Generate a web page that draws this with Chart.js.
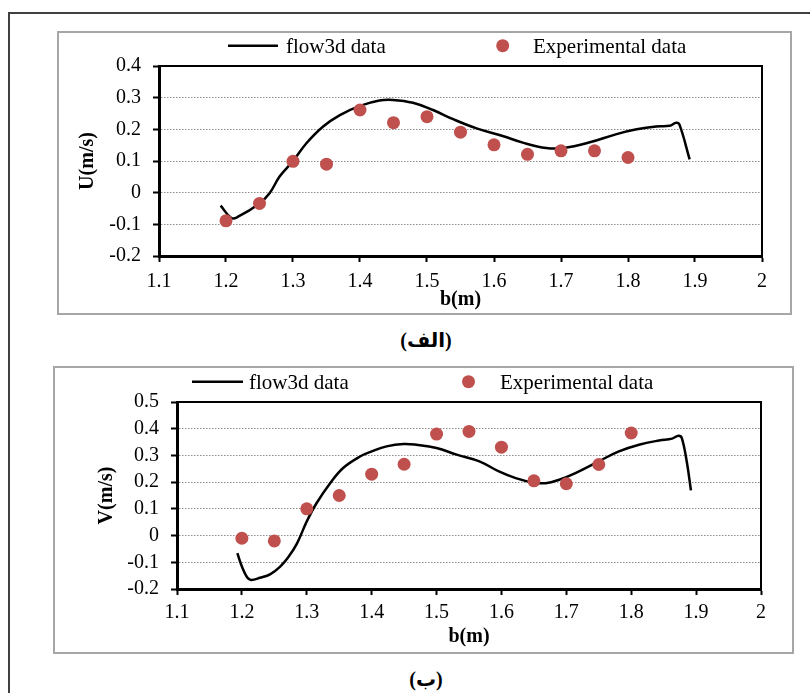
<!DOCTYPE html>
<html>
<head>
<meta charset="utf-8">
<script src="https://cdn.jsdelivr.net/npm/chart.js@4.4.1/dist/chart.umd.min.js"></script>
<style>
    body { margin: 0; background: #fff; width: 810px; height: 693px; overflow: hidden; position: relative; }
    #frame { position: absolute; left: 8px; top: 12px; width: 900px; height: 800px; border: 2px solid #404040; }
    .panel { position: absolute; box-sizing: border-box; border: 2px solid #a6a6a6; background: #fff; }
    .panel canvas { display: block; }
    .caption { position: absolute; left: 366px; width: 120px; text-align: center; font: bold 20px "Liberation Serif", "DejaVu Sans", serif; line-height: 24px; color: #000; }
</style>
</head>
<body>
<div id="frame"></div>

<div class="panel" style="left:57px; top:31px; width:735px; height:284px;">
    <canvas id="chartU" width="731" height="280"></canvas>
</div>
<div class="caption" dir="rtl" style="top:328px;">(الف)</div>

<div class="panel" style="left:53px; top:366px; width:741px; height:288px;">
    <canvas id="chartV" width="737" height="284"></canvas>
</div>
<div class="caption" dir="rtl" style="top:667px;">(ب)</div>

<script>
// tick labels
const xTickValues = [1.1, 1.2, 1.3, 1.4, 1.5, 1.6, 1.7, 1.8, 1.9, 2];
const uTickValues = [-0.2, -0.1, 0, 0.1, 0.2, 0.3, 0.4];
const vTickValues = [-0.2, -0.1, 0, 0.1, 0.2, 0.3, 0.4, 0.5];

const seriesNames = ['flow3d data', 'Experimental data'];

// experimental points (same stations in both plots)
const expX = [1.2, 1.25, 1.3, 1.35, 1.4, 1.45, 1.5, 1.55, 1.6, 1.65, 1.7, 1.75, 1.8];
const uExp = [-0.089, -0.034, 0.099, 0.09, 0.261, 0.221, 0.24, 0.191, 0.151, 0.121, 0.132, 0.132, 0.111];
const vExp = [-0.01, -0.02, 0.10, 0.15, 0.23, 0.267, 0.38, 0.39, 0.331, 0.205, 0.194, 0.266, 0.384];

// flow3d curve, U
const uLineX = [1.192, 1.208, 1.218, 1.249, 1.265, 1.280, 1.300, 1.320, 1.345, 1.370, 1.400, 1.429, 1.449,
                1.479, 1.509, 1.539, 1.574, 1.613, 1.643, 1.678, 1.703, 1.743, 1.783, 1.813, 1.842, 1.862,
                1.872, 1.877, 1.892];
const uLineY = [-0.041, -0.080, -0.076, -0.036, -0.002, 0.051, 0.100, 0.156, 0.209, 0.245, 0.274, 0.291, 0.293,
                0.284, 0.261, 0.232, 0.203, 0.179, 0.158, 0.141, 0.141, 0.159, 0.185, 0.200, 0.209, 0.211,
                0.221, 0.214, 0.105];

// flow3d curve, V
const vLineX = [1.193, 1.200, 1.208, 1.214, 1.228, 1.244, 1.259, 1.272, 1.285, 1.300, 1.315, 1.336, 1.356,
                1.382, 1.400, 1.423, 1.449, 1.469, 1.500, 1.531, 1.566, 1.596, 1.622, 1.648, 1.668, 1.689,
                1.714, 1.750, 1.781, 1.812, 1.843, 1.863, 1.873, 1.878, 1.886, 1.892];
const vLineY = [-0.066, -0.116, -0.156, -0.166, -0.158, -0.144, -0.116, -0.079, -0.029, 0.053, 0.121, 0.196, 0.253,
                0.296, 0.315, 0.334, 0.343, 0.340, 0.328, 0.303, 0.278, 0.240, 0.215, 0.199, 0.196, 0.209,
                0.234, 0.278, 0.315, 0.340, 0.356, 0.363, 0.374, 0.365, 0.271, 0.169];

const SERIF = '"Liberation Serif", "Times New Roman", serif';
const DOT_RED = '#c0504d';

function toPoints(xs, ys) {
    return xs.map((x, i) => ({ x: x, y: ys[i] }));
}

// legend drawn at fixed spots, like the spreadsheet one
const fixedLegend = {
    id: 'fixedLegend',
    afterDraw(chart, args, o) {
        const ctx = chart.ctx;
        const names = chart.data.datasets.map(d => d.label);
        ctx.save();
        ctx.strokeStyle = '#000';
        ctx.lineWidth = 2.5;
        ctx.beginPath();
        ctx.moveTo(o.lineFrom, o.lineY);
        ctx.lineTo(o.lineTo, o.lineY);
        ctx.stroke();
        ctx.fillStyle = DOT_RED;
        ctx.beginPath();
        ctx.arc(o.dotX, o.lineY, 6.5, 0, Math.PI * 2);
        ctx.fill();
        ctx.fillStyle = '#000';
        ctx.font = '21px ' + SERIF;
        ctx.textBaseline = 'alphabetic';
        ctx.fillText(names[0], o.text1, o.textY);
        ctx.fillText(names[1], o.text2, o.textY);
        ctx.restore();
    }
};

// top and right sides of the plot frame
const plotFrame = {
    id: 'plotFrame',
    afterDraw(chart) {
        const a = chart.chartArea;
        const ctx = chart.ctx;
        ctx.save();
        ctx.strokeStyle = '#000';
        ctx.lineWidth = 2;
        ctx.beginPath();
        ctx.moveTo(a.left, a.top);
        ctx.lineTo(a.right, a.top);
        ctx.lineTo(a.right, a.bottom);
        ctx.stroke();
        ctx.restore();
    }
};

function makeChart(id, cfg) {
    const ctx = document.getElementById(id).getContext('2d');
    return new Chart(ctx, {
        type: 'scatter',
        data: {
            datasets: [{
                label: seriesNames[0],
                data: toPoints(cfg.lineX, cfg.lineY),
                showLine: true,
                borderColor: '#000',
                borderWidth: 2.5,
                pointRadius: 0,
                tension: 0.4,
                order: 1
            }, {
                label: seriesNames[1],
                data: toPoints(expX, cfg.exp),
                pointRadius: 6.5,
                pointHoverRadius: 6.5,
                backgroundColor: DOT_RED,
                borderWidth: 0,
                order: 0
            }]
        },
        options: {
            responsive: false,
            animation: false,
            layout: { padding: { left: 0, top: cfg.padTop, right: cfg.padRight, bottom: 0 } },
            plugins: {
                legend: { display: false },
                tooltip: { enabled: false },
                fixedLegend: cfg.legend
            },
            scales: {
                x: {
                    type: 'linear',
                    min: 1.1,
                    max: 2,
                    afterBuildTicks: s => { s.ticks = xTickValues.map(v => ({ value: v })); },
                    afterFit: s => { s.height = cfg.xHeight; },
                    border: { color: '#000', width: 3 },
                    grid: { drawOnChartArea: false, drawTicks: true, tickLength: 6, tickColor: '#000', tickWidth: 2 },
                    ticks: { color: '#000', padding: cfg.xTickPad, maxRotation: 0, autoSkip: false,
                             font: { family: SERIF, size: 20 }, callback: v => String(v) },
                    title: { display: true, text: 'b(m)', color: '#000', padding: { top: 0, bottom: cfg.xTitlePad },
                             font: { family: SERIF, size: 20, weight: 'bold' } }
                },
                y: {
                    min: cfg.yTicks[0],
                    max: cfg.yTicks[cfg.yTicks.length - 1],
                    afterBuildTicks: s => { s.ticks = cfg.yTicks.map(v => ({ value: v })); },
                    afterFit: s => { s.width = cfg.yWidth; },
                    border: { color: '#000', width: 3, dash: [1.5, 1.5] },
                    grid: { color: '#8c8c8c', lineWidth: 1, drawTicks: true, tickLength: 6,
                            tickColor: '#000', tickWidth: 2, tickBorderDash: [] },
                    ticks: { color: '#000', padding: 12, autoSkip: false,
                             font: { family: SERIF, size: 20 }, callback: v => String(v) },
                    title: { display: true, text: cfg.yTitle, color: '#000', padding: { top: cfg.yTitlePad, bottom: 0 },
                             font: { family: SERIF, size: 20, weight: 'bold' } }
                }
            }
        },
        plugins: [fixedLegend, plotFrame]
    });
}

makeChart('chartU', {
    lineX: uLineX, lineY: uLineY, exp: uExp, yTicks: uTickValues, yTitle: 'U(m/s)',
    padTop: 33, padRight: 28, xHeight: 57, yWidth: 100,
    xTickPad: 8, xTitlePad: 1, yTitlePad: 17,
    legend: { lineFrom: 169, lineTo: 219, lineY: 12.7, dotX: 443.7, text1: 227, text2: 474, textY: 19.7 }
});

makeChart('chartV', {
    lineX: vLineX, lineY: vLineY, exp: vExp, yTicks: vTickValues, yTitle: 'V(m/s)',
    padTop: 34, padRight: 31, xHeight: 63, yWidth: 122,
    xTickPad: 6, xTitlePad: 3, yTitlePad: 40,
    legend: { lineFrom: 137, lineTo: 188, lineY: 13.7, dotX: 413.5, text1: 194, text2: 445, textY: 20.7 }
});
</script>
</body>
</html>
